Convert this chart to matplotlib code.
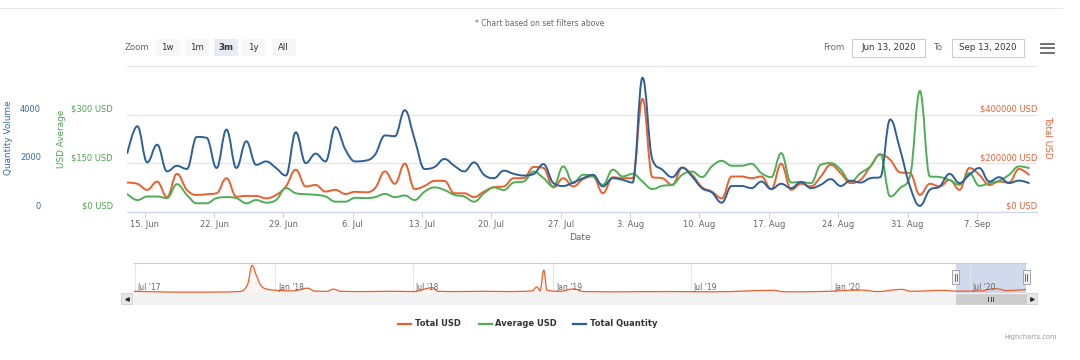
import numpy as np
import pandas as pd
import matplotlib
matplotlib.use("Agg")
from matplotlib import pyplot as plt
import matplotlib.dates as mdates
from matplotlib.path import Path
from matplotlib.patches import PathPatch, Rectangle
from matplotlib.lines import Line2D
from matplotlib.ticker import FuncFormatter, NullLocator

plt.rcParams['font.family'] = ['DejaVu Sans']

# daily values, 13 Jun 2020 .. 12 Sep 2020
dates = pd.date_range('2020-06-13 06:00', periods=92, freq='D')

total_usd = [120, 115, 90, 124, 60, 156, 90, 69, 72, 76,
             138, 62, 65, 65, 55, 69, 104, 173, 104, 110,
             83, 90, 73, 82, 80, 97, 166, 115, 198, 93,
             106, 127, 127, 76, 76, 60, 83, 101, 104, 138,
             138, 184, 180, 100, 138, 104, 134, 145, 76, 142,
             138, 138, 465, 142, 138, 110, 180, 152, 101, 83,
             55, 145, 145, 138, 145, 93, 198, 90, 115, 104,
             145, 193, 159, 118, 131, 186, 235, 214, 162, 159,
             69, 115, 104, 131, 90, 180, 152, 110, 124, 120,
             176, 152]
total_usd = [v * 1000 for v in total_usd]

average_usd = [54, 36, 47, 47, 42, 85, 52, 26, 26, 42,
               45, 42, 26, 36, 28, 36, 73, 57, 54, 52,
               47, 31, 31, 43, 42, 45, 55, 45, 50, 36,
               62, 75, 67, 52, 47, 31, 57, 75, 67, 90,
               93, 124, 104, 78, 140, 88, 114, 109, 83, 130,
               109, 117, 93, 70, 80, 83, 114, 124, 107, 140,
               157, 142, 142, 148, 119, 107, 181, 90, 92, 88,
               145, 150, 130, 93, 119, 140, 178, 47, 73, 109,
               373, 109, 107, 98, 83, 119, 80, 88, 96, 114,
               140, 135]

total_quantity = [2420, 3520, 2030, 2760, 1660, 1890, 1760, 3080, 3040, 1800,
                  3380, 1800, 2900, 1930, 2070, 1800, 1490, 3270, 2000, 2390,
                  2070, 3480, 2560, 2070, 2100, 2350, 3140, 3110, 4180, 2970,
                  1760, 1840, 2170, 1890, 1660, 2030, 1520, 1380, 1690, 1560,
                  1490, 1550, 1960, 1180, 1060, 1200, 1380, 1520, 1040, 1380,
                  1310, 1200, 5520, 2140, 1730, 1420, 1820, 1450, 970, 790,
                  370, 1060, 1060, 970, 1240, 930, 1150, 970, 1220, 970,
                  1110, 1340, 1060, 1280, 1200, 1380, 1420, 3800, 2560, 1040,
                  240, 900, 1040, 1560, 1180, 1520, 1800, 1240, 1420, 1180,
                  1280, 1180]

# navigator (whole history, Total USD in thousands)
nav_dates = pd.to_datetime([
    '2017-06-30', '2017-07-15', '2017-08-15', '2017-09-15', '2017-10-15',
    '2017-11-15', '2017-11-26', '2017-12-02', '2017-12-08', '2017-12-14',
    '2017-12-22', '2018-01-05', '2018-01-25', '2018-02-13', '2018-02-22',
    '2018-03-10', '2018-03-19', '2018-03-28', '2018-05-01', '2018-06-01',
    '2018-07-01', '2018-07-27', '2018-08-03', '2018-09-01', '2018-10-01',
    '2018-11-01', '2018-12-05', '2018-12-11', '2018-12-15', '2018-12-20',
    '2018-12-24', '2019-01-10', '2019-01-28', '2019-02-10', '2019-04-01',
    '2019-06-01', '2019-08-01', '2019-10-17', '2019-11-01', '2019-12-15',
    '2020-02-11', '2020-03-01', '2020-04-03', '2020-04-15', '2020-05-27',
    '2020-06-13', '2020-07-15', '2020-08-04', '2020-08-20', '2020-09-13'])
nav_total_usd = [70, 60, 40, 35, 40,
                 60, 350, 1150, 700, 300,
                 160, 110, 90, 200, 80,
                 70, 160, 70, 60, 70,
                 60, 220, 70, 60, 70,
                 60, 90, 250, 100, 950,
                 120, 70, 170, 60, 50,
                 60, 50, 110, 50, 60,
                 120, 60, 150, 70, 110,
                 80, 90, 180, 100, 150]

RED = '#ec5f2e'
GREEN = '#4fae55'
BLUE = '#2d5f98'
GREY = '#666666'


def spline(x, y):
    # highcharts-like smoothing between the points
    x = np.asarray(x, float)
    y = np.asarray(y, float)
    n = len(x)
    lx, ly, rx, ry = x.copy(), y.copy(), x.copy(), y.copy()
    for i in range(1, n - 1):
        lcx = (1.5 * x[i] + x[i - 1]) / 2.5
        lcy = (1.5 * y[i] + y[i - 1]) / 2.5
        rcx = (1.5 * x[i] + x[i + 1]) / 2.5
        rcy = (1.5 * y[i] + y[i + 1]) / 2.5
        corr = (rcy - lcy) * (rcx - x[i]) / (rcx - lcx) + y[i] - rcy
        lcy += corr
        rcy += corr
        if lcy > y[i - 1] and lcy > y[i]:
            lcy = max(y[i - 1], y[i]); rcy = 2 * y[i] - lcy
        elif lcy < y[i - 1] and lcy < y[i]:
            lcy = min(y[i - 1], y[i]); rcy = 2 * y[i] - lcy
        if rcy > y[i + 1] and rcy > y[i]:
            rcy = max(y[i + 1], y[i]); lcy = 2 * y[i] - rcy
        elif rcy < y[i + 1] and rcy < y[i]:
            rcy = min(y[i + 1], y[i]); lcy = 2 * y[i] - rcy
        lx[i], ly[i], rx[i], ry[i] = lcx, lcy, rcx, rcy
    verts = [(x[0], y[0])]
    codes = [Path.MOVETO]
    for i in range(1, n):
        verts += [(rx[i - 1], ry[i - 1]), (lx[i], ly[i]), (x[i], y[i])]
        codes += [Path.CURVE4] * 3
    return verts, codes


def box(l, t, r, b):
    return [l / 1080, 1 - b / 360, (r - l) / 1080, (b - t) / 360]


def fxy(px, py):
    return px / 1080, 1 - py / 360


fig = plt.figure(figsize=(10.8, 3.6), dpi=100)

# ---- main chart
ax = fig.add_axes(box(127, 66, 1036.7, 211.7))
ax_g = ax.twinx()
ax_b = ax.twinx()
ax.set_ylim(0, 600000)
ax_g.set_ylim(0, 450)
ax_b.set_ylim(0, 6000)

x = mdates.date2num(dates)
ax.set_xlim(mdates.date2num(pd.Timestamp('2020-06-13 05:00')),
            mdates.date2num(pd.Timestamp('2020-09-13 01:00')))

for a in (ax, ax_g, ax_b):
    for s in a.spines.values():
        s.set_visible(False)
ax_g.yaxis.set_major_locator(NullLocator())
ax_b.yaxis.set_major_locator(NullLocator())
ax.set_yticks([0, 200000, 400000, 600000])
ax.tick_params(axis='y', left=False, labelleft=False)
ax.grid(axis='y', color='#e6e6e6', lw=1)
ax.spines['bottom'].set_visible(True)
ax.spines['bottom'].set_color('#ccd6eb')

ax.xaxis.set_major_locator(mdates.WeekdayLocator(byweekday=mdates.MO))
ax.xaxis.set_major_formatter(FuncFormatter(
    lambda v, p: f"{mdates.num2date(v).day}. {mdates.num2date(v).strftime('%b')}"))
ax.tick_params(axis='x', length=4, color='#ccd6eb', labelcolor=GREY,
               labelsize=6, pad=2)

for a, vals, col in ((ax, total_usd, RED), (ax_g, average_usd, GREEN),
                     (ax_b, total_quantity, BLUE)):
    v, c = spline(x, vals)
    a.add_patch(PathPatch(Path(v, c), fill=False, edgecolor=col, lw=1.4,
                          zorder=2, joinstyle='round', capstyle='round'))


def ylabels(a, ticks, texts, side, dx, color):
    for t, s in zip(ticks, texts):
        a.annotate(s, xy=(side, t), xycoords=a.get_yaxis_transform(),
                   xytext=(dx * 0.72, 5.5 * 0.72), textcoords='offset points',
                   ha='right', va='center', fontsize=6, color=color)


ylabels(ax_b, [0, 2000, 4000], ['0', '2000', '4000'], 0, -86, '#3a6a9c')
ylabels(ax_g, [0, 150, 300], ['$0 USD', '$150 USD', '$300 USD'], 0, -14, '#4ea253')
ylabels(ax, [0, 200000, 400000], ['$0 USD', '$200000 USD', '$400000 USD'], 1, 0.5, '#e4623a')

fig.text(*fxy(9, 137.7), 'Quantity Volume', rotation=90, ha='center', va='center',
         fontsize=6.4, color='#3a6a9c')
fig.text(*fxy(61, 138.7), 'USD Average', rotation=90, ha='center', va='center',
         fontsize=6.4, color='#4ea253')
fig.text(*fxy(1047.5, 137.5), 'Total USD', rotation=270, ha='center', va='center',
         fontsize=6.4, color='#e4623a')
fig.text(*fxy(580, 238), 'Date', ha='center', va='center', fontsize=6.5, color=GREY)

# ---- header
fig.add_artist(Line2D([0, 1062 / 1080], [1 - 8 / 360] * 2, color='#e6e6e6', lw=0.8))
fig.text(*fxy(540, 24), '* Chart based on set filters above', ha='center',
         va='center', fontsize=5.5, color=GREY)
fig.text(*fxy(125, 47.5), 'Zoom', ha='left', va='center', fontsize=6.2, color=GREY)
buttons = ['1w', '1m', '3m', '1y', 'All']
btn_x = [167.5, 196.5, 225.5, 253, 283.5]
for b, bx in zip(buttons, btn_x):
    sel = b == '3m'
    l, t = fxy(bx - 12, 56)
    fig.add_artist(Rectangle((l, t), 24 / 1080, 17 / 360, transform=fig.transFigure,
                             facecolor='#e6ebf5' if sel else '#f7f7f7', edgecolor='none'))
    fig.text(*fxy(bx, 47.5), b, ha='center', va='center', fontsize=6.2,
             color='#333333', fontweight='bold' if sel else 'normal')

fig.text(*fxy(822.7, 47.5), 'From', ha='left', va='center', fontsize=6.2, color=GREY)
fig.text(*fxy(934, 47.5), 'To', ha='left', va='center', fontsize=6.2, color=GREY)
for l, r, s in ((851.7, 925, 'Jun 13, 2020'), (951.7, 1024.3, 'Sep 13, 2020')):
    x0, y0 = fxy(l, 56.7)
    fig.add_artist(Rectangle((x0, y0), (r - l) / 1080, 17.4 / 360, transform=fig.transFigure,
                             facecolor='white', edgecolor='#cccccc', lw=0.8))
    fig.text(*fxy((l + r) / 2, 47.8), s, ha='center', va='center', fontsize=6.2,
             color='#333333')
for yy in (43.5, 48, 52.5):
    fig.add_artist(Line2D([1041 / 1080, 1054 / 1080], [1 - yy / 360] * 2,
                          color=GREY, lw=1.3))

# ---- navigator
nav = fig.add_axes(box(134, 263, 1026, 293))
nav_start = pd.Timestamp('2017-06-30')
nav_end = pd.Timestamp('2020-09-13')
nav.set_xlim(mdates.date2num(nav_start), mdates.date2num(nav_end))
nav.set_ylim(0, 1250)
for s in nav.spines.values():
    s.set_visible(False)
nav.yaxis.set_major_locator(NullLocator())
nav.xaxis.set_major_locator(mdates.MonthLocator(bymonth=[1, 7]))
nav.tick_params(axis='x', bottom=False, labelbottom=False)
nav.grid(axis='x', color='#e6e6e6', lw=0.8)

nx = mdates.date2num(nav_dates)
v, c = spline(nx, nav_total_usd)
fv = v + [(nx[-1], 0), (nx[0], 0), (nx[0], 0)]
fc = c + [Path.LINETO, Path.LINETO, Path.CLOSEPOLY]
nav.add_patch(PathPatch(Path(fv, fc), facecolor=RED, alpha=0.06, edgecolor='none'))
nav.add_patch(PathPatch(Path(v, c), fill=False, edgecolor=RED, lw=0.9, zorder=2))

for t in nav.xaxis.get_major_locator()():
    d = mdates.num2date(t)
    nav.annotate(d.strftime("%b '%y"), xy=(t, 0), xycoords=nav.get_xaxis_transform(),
                 xytext=(3 * 0.72, 5 * 0.72), textcoords='offset points',
                 ha='left', va='center', fontsize=5.5, color=GREY)

sel0 = mdates.date2num(pd.Timestamp('2020-06-13'))
sel1 = mdates.date2num(nav_end)
nav.axvspan(sel0, sel1, color=(102 / 255, 133 / 255, 194 / 255), alpha=0.3, lw=0)
fig.add_artist(Line2D([134 / 1080, 1026 / 1080], [1 - 263 / 360] * 2,
                      color='#cccccc', lw=0.8))

fig.canvas.draw()
px0 = nav.transData.transform((sel0, 0))[0]
px1 = nav.transData.transform((sel1, 0))[0]
px0_img, px1_img = px0, px1  # display pixels == image pixels at dpi 100

# scrollbar
sx, sy = fxy(121, 304)
fig.add_artist(Rectangle((sx, sy), (1037 - 121) / 1080, 11 / 360, transform=fig.transFigure,
                         facecolor='#f2f2f2', edgecolor='#f2f2f2', lw=0.5))
for l in (121, 1026):
    bx, by = fxy(l, 304)
    fig.add_artist(Rectangle((bx, by), 11 / 1080, 11 / 360, transform=fig.transFigure,
                             facecolor='#e6e6e6', edgecolor='#cccccc', lw=0.5))
fig.add_artist(Line2D([126.5 / 1080], [1 - 298.5 / 360], marker='<', markersize=2.5,
                      color='#333333', lw=0))
fig.add_artist(Line2D([1031.5 / 1080], [1 - 298.5 / 360], marker='>', markersize=2.5,
                      color='#333333', lw=0))
tx, ty = fxy(px0_img, 303.5)
fig.add_artist(Rectangle((tx, ty), (px1_img - px0_img) / 1080, 10 / 360,
                         transform=fig.transFigure, facecolor='#cccccc',
                         edgecolor='#cccccc', lw=0.5))
mid = (px0_img + px1_img) / 2
for dx in (-2.5, 0, 2.5):
    fig.add_artist(Line2D([(mid + dx) / 1080] * 2, [1 - 296.5 / 360, 1 - 300.5 / 360],
                          color='#333333', lw=0.6))

# navigator handles
for hp in (px0_img, px1_img):
    hx, hy = fxy(hp - 3.5, 284)
    fig.add_artist(Rectangle((hx, hy), 7 / 1080, 14 / 360, transform=fig.transFigure,
                             facecolor='#f2f2f2', edgecolor='#999999', lw=0.6))
    for dx in (-1, 1):
        fig.add_artist(Line2D([(hp + dx) / 1080] * 2, [1 - 274 / 360, 1 - 281 / 360],
                              color='#333333', lw=0.5))

# ---- legend
for l, r, tx0, s, col in ((398, 411, 415, 'Total USD', RED),
                          (479, 492, 495, 'Average USD', GREEN),
                          (573, 586, 590, 'Total Quantity', BLUE)):
    fig.add_artist(Line2D([l / 1080, r / 1080], [1 - 324 / 360] * 2, color=col, lw=1.6))
    fig.text(*fxy(tx0, 324), s, ha='left', va='center', fontsize=6,
             fontweight='bold', color='#333333')

fig.text(*fxy(1057, 337), 'Highcharts.com', ha='right', va='center', fontsize=4.8,
         color='#999999')

fig.savefig('out.png', dpi=100)
